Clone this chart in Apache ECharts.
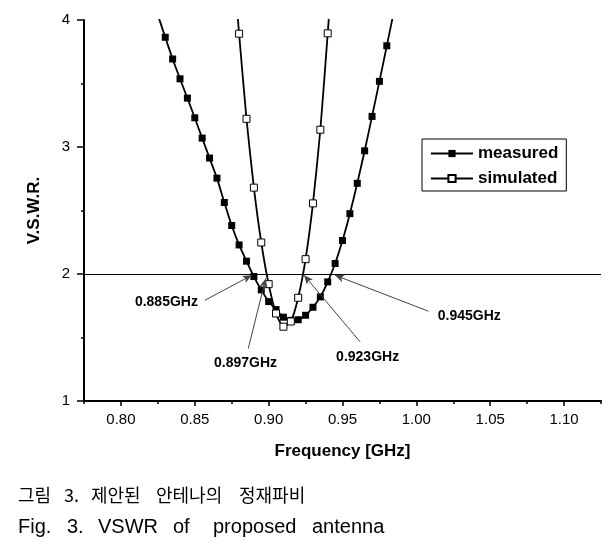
<!DOCTYPE html>
<html><head><meta charset="utf-8">
<script src="https://cdn.jsdelivr.net/npm/echarts@6/dist/echarts.min.js"></script>
<style>html,body{margin:0;padding:0;background:#fff}#c{width:614px;height:548px}</style>
</head><body><div id="c"></div><script>
// ---- data ----
const measuredFreq = [0.825,0.830,0.835,0.840,0.845,0.850,0.855,0.860,0.865,0.870,0.875,0.880,0.885,0.890,0.895,0.900,0.905,0.910,0.915,0.920,0.925,0.930,0.935,0.940,0.945,0.950,0.955,0.960,0.965,0.970,0.975,0.980,0.985];
const measuredVswr = [4.04,3.864,3.693,3.537,3.385,3.230,3.070,2.913,2.755,2.563,2.382,2.229,2.101,1.980,1.875,1.783,1.72,1.66,1.635,1.64,1.675,1.738,1.820,1.938,2.083,2.264,2.475,2.714,2.970,3.241,3.517,3.797,4.08];
const simulatedFreq = [0.875,0.880,0.885,0.890,0.895,0.900,0.905,0.910,0.915,0.920,0.925,0.930,0.935,0.940,0.945];
const simulatedVswr = [4.6,3.892,3.222,2.680,2.248,1.920,1.689,1.585,1.626,1.813,2.117,2.556,3.136,3.895,4.7];
const xTickLabels = [0.80,0.85,0.90,0.95,1.00,1.05,1.10];
const xMinorTicks = [0.775,0.825,0.875,0.925,0.975,1.025,1.075,1.125];
const yTickLabels = [1,2,3,4];
const refLevel = 2;
const annoLabels = ['0.885GHz','0.897GHz','0.923GHz','0.945GHz'];
const annoTip  = [[0.8885,1.99],[0.898,1.965],[0.924,1.99],[0.945,1.99]];
const annoTail = [[0.8569,1.793],[0.8862,1.413],[0.962,1.465],[1.0082,1.707]];
const annoText = [[0.8308,1.78],[0.8844,1.295],[0.967,1.342],[1.0358,1.67]];
const captionKo = ['그림','3.','제안된','안테나의','정재파비'];
const captionEn = ['Fig.','3.','VSWR','of','proposed','antenna'];

const FONT = '"Liberation Sans", Arial, Helvetica, sans-serif';
const chart = echarts.init(document.getElementById('c'), null, {renderer:'canvas'});

const option = {
  animation: false,
  backgroundColor: '#fff',
  grid: {left: 84, top: 20, right: 13, bottom: 147},
  legend: {
    left: 422, top: 139, orient: 'vertical',
    borderColor: '#000', borderWidth: 1, backgroundColor: '#fff',
    padding: [6, 8, 4, 8], itemGap: 8, itemWidth: 42, itemHeight: 9,
    textStyle: {fontFamily: FONT, fontWeight: 'bold', fontSize: 17, lineHeight: 17, color: '#000'},
    data: ['measured', 'simulated']
  },
  xAxis: [{
    type: 'value', min: 0.775, max: 1.125,
    axisLine: {lineStyle: {color: '#000', width: 2}},
    axisTick: {show: true, customValues: xTickLabels, length: 5, lineStyle: {color: '#000', width: 1.5}},
    axisLabel: {customValues: xTickLabels, formatter: v => v.toFixed(2), color: '#000', fontFamily: FONT, fontSize: 15, margin: 11},
    splitLine: {show: false},
    name: 'Frequency [GHz]', nameLocation: 'middle', nameGap: 42,
    nameTextStyle: {fontFamily: FONT, fontWeight: 'bold', fontSize: 17, color: '#000'}
  }, {
    type: 'value', min: 0.775, max: 1.125, position: 'bottom',
    axisLine: {show: false},
    axisTick: {show: true, customValues: xMinorTicks, length: 3, lineStyle: {color: '#000', width: 1.5}},
    axisLabel: {show: false}, splitLine: {show: false}
  }],
  yAxis: {
    type: 'value', min: 1, max: 4, interval: 1,
    axisLine: {show: true, lineStyle: {color: '#000', width: 2}},
    axisTick: {show: true, length: 7, lineStyle: {color: '#000', width: 1.5}},
    minorTick: {show: true, splitNumber: 2, length: 3, lineStyle: {color: '#000', width: 1.5}},
    axisLabel: {color: '#000', fontFamily: FONT, fontSize: 15, margin: 14},
    splitLine: {show: false},
    name: 'V.S.W.R.', nameLocation: 'middle', nameGap: 41, nameRotate: 90,
    nameTextStyle: {fontFamily: FONT, fontWeight: 'bold', fontSize: 17, color: '#000'}
  },
  series: [{
    name: 'measured', type: 'line', clip: true, smooth: 0.2,
    data: measuredFreq.map((f, i) => [f, measuredVswr[i]]),
    symbol: 'rect', symbolSize: 7, showAllSymbol: true,
    itemStyle: {color: '#000'},
    lineStyle: {color: '#000', width: 1.8},
    z: 3,
    markLine: {
      silent: true, symbol: ['none', 'arrow'], symbolSize: [6, 9],
      label: {show: false},
      lineStyle: {color: '#444', width: 1, type: 'solid'},
      data: annoTip.map((t, i) => [{coord: annoTail[i]}, {coord: t}])
    }
  }, {
    name: 'simulated', type: 'line', clip: true, smooth: 0.2,
    data: simulatedFreq.map((f, i) => [f, simulatedVswr[i]]),
    symbol: 'rect', symbolSize: 7, showAllSymbol: true,
    itemStyle: {color: '#fff', borderColor: '#000', borderWidth: 1},
    lineStyle: {color: '#000', width: 1.8},
    z: 4,
    markLine: {
      silent: true, symbol: ['none', 'none'],
      label: {show: false},
      lineStyle: {color: '#000', width: 1, type: 'solid'},
      data: [{yAxis: refLevel}]
    }
  }]
};
chart.setOption(option);

// annotation texts and caption
const g = [];
annoLabels.forEach((s, i) => {
  const p = chart.convertToPixel({xAxisIndex: 0, yAxisIndex: 0}, annoText[i]);
  g.push({type: 'text', x: p[0], y: p[1], style: {text: s, fill: '#000', font: 'bold 14px ' + FONT, textAlign: 'center', textVerticalAlign: 'middle'}});
});
const koX = [18, 64, 91, 156, 239];
captionKo.forEach((s, i) => g.push({type: 'text', x: koX[i], y: 495, style: {text: s, fill: '#000', font: '18px "Noto Sans CJK KR", sans-serif', textVerticalAlign: 'middle'}}));
const enX = [18, 67, 98, 173, 213, 312];
captionEn.forEach((s, i) => g.push({type: 'text', x: enX[i], y: 527, style: {text: s, fill: '#000', font: '20px ' + FONT, textVerticalAlign: 'middle'}}));
chart.setOption({graphic: g});
</script></body></html>
